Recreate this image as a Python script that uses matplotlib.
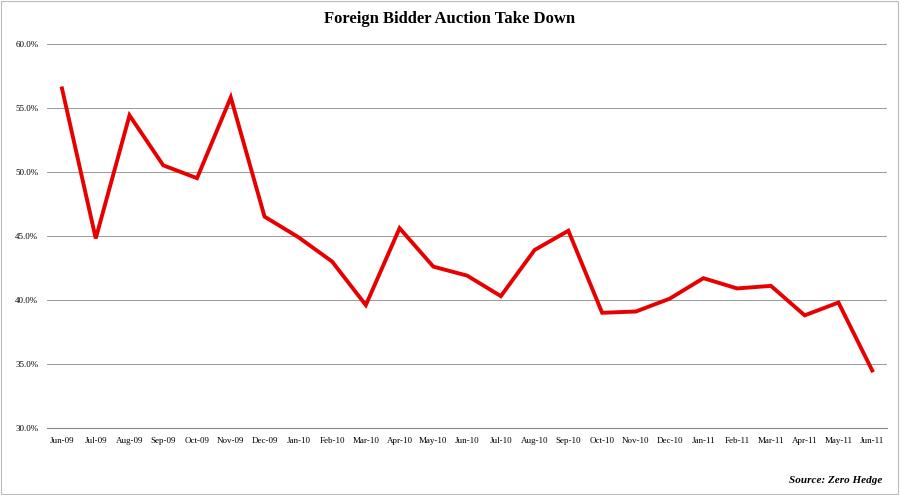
import matplotlib.pyplot as plt
from matplotlib.patches import Rectangle
from matplotlib.ticker import FuncFormatter

months = ["Jun-09", "Jul-09", "Aug-09", "Sep-09", "Oct-09", "Nov-09", "Dec-09",
          "Jan-10", "Feb-10", "Mar-10", "Apr-10", "May-10", "Jun-10", "Jul-10",
          "Aug-10", "Sep-10", "Oct-10", "Nov-10", "Dec-10", "Jan-11", "Feb-11",
          "Mar-11", "Apr-11", "May-11", "Jun-11"]
take_down = [56.5, 44.8, 54.4, 50.5, 49.5, 55.8, 46.5, 44.9, 43.0, 39.6, 45.6,
             42.6, 41.9, 40.3, 43.9, 45.4, 39.0, 39.1, 40.1, 41.7, 40.9, 41.1,
             38.8, 39.8, 34.5]

plt.rcParams["font.family"] = "Liberation Serif"
fig = plt.figure(figsize=(9, 4.95), dpi=100)
ax = fig.add_axes([0.052, 0.135, 0.934, 0.777])

x = range(len(months))
ax.plot(x, take_down, color="#e80000", lw=2.8, solid_joinstyle="miter")

ax.set_ylim(30, 60)
ax.set_yticks(range(30, 61, 5))
ax.yaxis.set_major_formatter(FuncFormatter(lambda v, p: f"{v:.1f}%"))
ax.set_xlim(-0.45, len(months) - 0.55)
ax.set_xticks(list(x))
ax.set_xticklabels(months)
ax.tick_params(labelsize=6.5, length=0, pad=6)
ax.grid(axis="y", color="#999999", lw=0.7)
ax.set_axisbelow(True)
for s in ["top", "right", "left"]:
    ax.spines[s].set_visible(False)
ax.spines["bottom"].set_color("#888888")

fig.text(0.5, 0.962, "Foreign Bidder Auction Take Down", ha="center", va="center",
         fontsize=12, fontweight="bold")
fig.text(0.98, 0.03, "Source: Zero Hedge", ha="right", va="center",
         fontsize=8, fontweight="bold", style="italic")

# thin frame around the whole chart
fig.patches.append(Rectangle((0.001, 0.002), 0.997, 0.996, transform=fig.transFigure,
                             fill=False, edgecolor="#bbbbbb", lw=0.8))

fig.savefig("out.png")
